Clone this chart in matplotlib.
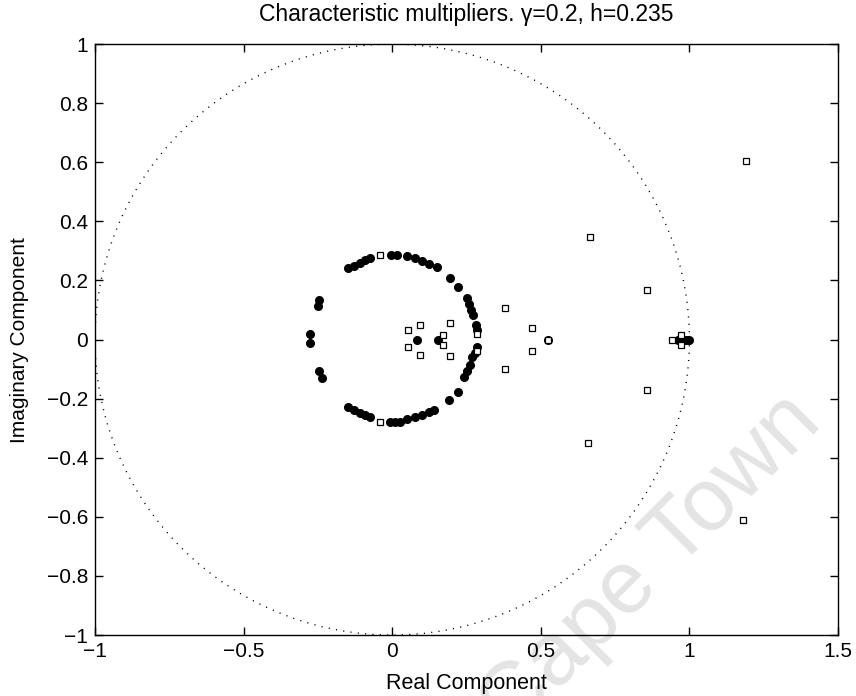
"""Characteristic multipliers plot"""

import numpy as np
import matplotlib
matplotlib.use("Agg")
import matplotlib.pyplot as plt

plt.rcParams['font.family'] = ['Liberation Sans', 'DejaVu Sans']

# filled dots (x = real, y = imag)
dots_re = [
    -0.275, -0.275, -0.25, -0.245, -0.245, -0.235,
    -0.148, -0.13, -0.11, -0.09, -0.074, -0.005, 0.017, 0.05, 0.075, 0.1, 0.125, 0.15,
    0.195, 0.222, 0.25, 0.258, 0.265, 0.272, 0.283, 0.286, 0.286,
    -0.148, -0.13, -0.11, -0.09, -0.074, -0.007, 0.01, 0.027, 0.05, 0.075, 0.1, 0.125, 0.14,
    0.19, 0.222, 0.24, 0.252, 0.262, 0.27, 0.28,
    0.084, 0.155, 0.525, 0.96, 0.975, 0.99, 1.0,
]
dots_im = [
    0.02, -0.01, 0.115, 0.135, -0.105, -0.13,
    0.242, 0.25, 0.26, 0.268, 0.276, 0.286, 0.286, 0.282, 0.275, 0.266, 0.256, 0.245,
    0.208, 0.178, 0.14, 0.12, 0.1, 0.083, 0.05, 0.032, -0.025,
    -0.228, -0.24, -0.25, -0.256, -0.262, -0.28, -0.28, -0.28, -0.27, -0.262, -0.255, -0.245, -0.24,
    -0.205, -0.177, -0.127, -0.105, -0.085, -0.06, -0.045,
    0.0, 0.0, 0.0, 0.0, 0.0, 0.0, 0.0,
]

# open squares
sq_re = [
    -0.04, -0.04, 0.054, 0.054, 0.094, 0.094, 0.172, 0.172, 0.195, 0.195,
    0.286, 0.286, 0.38, 0.38, 0.47, 0.47, 0.525, 0.665, 0.66,
    0.857, 0.857, 0.94, 0.97, 0.97, 1.19, 1.18,
]
sq_im = [
    0.286, -0.28, 0.032, -0.025, 0.049, -0.052, 0.015, -0.018, 0.056, -0.056,
    0.02, -0.04, 0.107, -0.10, 0.039, -0.039, 0.0, 0.347, -0.35,
    0.168, -0.17, 0.0, 0.015, -0.02, 0.604, -0.61,
]

x_ticks = [-1, -0.5, 0, 0.5, 1, 1.5]
x_ticklabels = ['\u22121', '\u22120.5', '0', '0.5', '1', '1.5']
y_ticks = [-1, -0.8, -0.6, -0.4, -0.2, 0, 0.2, 0.4, 0.6, 0.8, 1]
y_ticklabels = ['\u22121', '\u22120.8', '\u22120.6', '\u22120.4', '\u22120.2', '0',
                '0.2', '0.4', '0.6', '0.8', '1']

theta = np.linspace(0, 2 * np.pi, 400)

fig = plt.figure(figsize=(8.56, 6.96), dpi=100)
ax = fig.add_axes([0.111, 0.0876, 0.868, 0.849])

# watermark (behind everything)
fig.text(0.962, 0.39, "Cape Town", rotation=45, rotation_mode='anchor',
         ha='right', va='baseline', fontsize=64, color='#e4e4e4', zorder=-1)
ax.patch.set_alpha(0)

ax.plot(np.cos(theta), np.sin(theta), color='k', lw=1.0,
        linestyle=(0, (0.8, 4.5)))
ax.plot(dots_re, dots_im, 'o', color='k', markersize=5.5)
ax.plot(sq_re, sq_im, 's', mfc='white', mec='k', markersize=4.5, mew=0.9)

ax.set_xlim(-1, 1.5)
ax.set_ylim(-1, 1)
ax.set_xticks(x_ticks)
ax.set_xticklabels(x_ticklabels)
ax.set_yticks(y_ticks)
ax.set_yticklabels(y_ticklabels)
ax.tick_params(direction='in', length=6, width=1, labelsize=15,
               top=True, right=True)
ax.tick_params(axis='x', pad=5)
ax.tick_params(axis='y', pad=5)
for s in ax.spines.values():
    s.set_linewidth(1.0)

ax.set_title("Characteristic multipliers. \u03b3=0.2, h=0.235", fontsize=16.5, pad=17)
ax.set_xlabel("Real Component", fontsize=15.5, labelpad=9)
ax.set_ylabel("Imaginary Component", fontsize=15, labelpad=13)

fig.savefig("out.png", dpi=100)
